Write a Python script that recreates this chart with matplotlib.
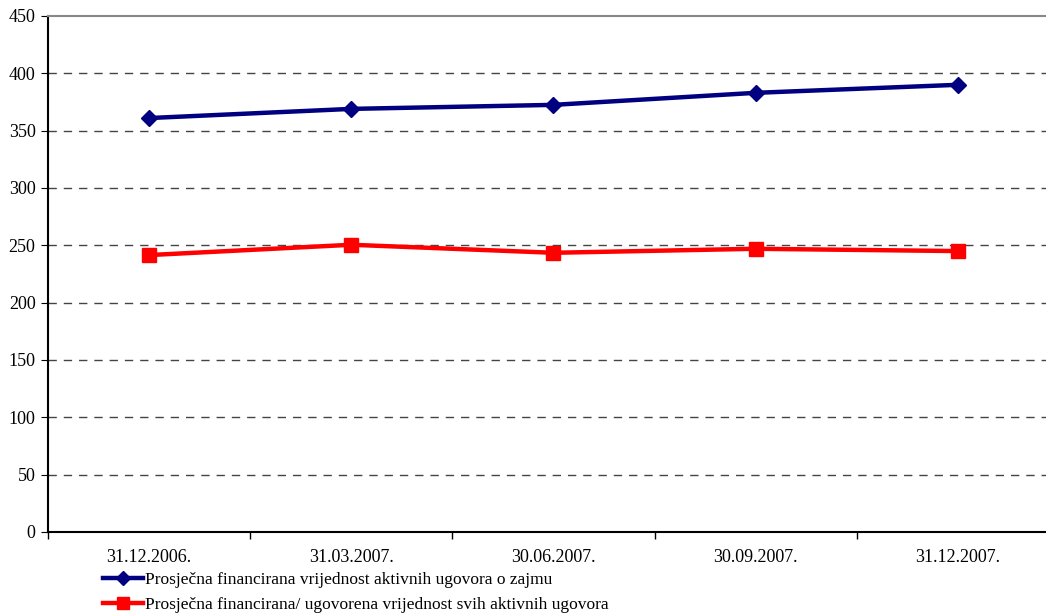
import matplotlib.pyplot as plt
import numpy as np

plt.rcParams['font.family'] = ['Liberation Serif', 'DejaVu Serif']

# --- data
categories = ['31.12.2006.', '31.03.2007.', '30.06.2007.', '30.09.2007.', '31.12.2007.']
aktivni_zajam = [361, 369, 372.5, 383, 390]
svi_ugovori = [241.5, 250.5, 243.5, 247, 245]
label_zajam = 'Prosječna financirana vrijednost aktivnih ugovora o zajmu'
label_svi = 'Prosječna financirana/ ugovorena vrijednost svih aktivnih ugovora'

W, H = 1046, 614
fig = plt.figure(figsize=(W / 100, H / 100), dpi=100)
# plot area runs past the right edge of the image, like the original
left, right, top, bottom = 48, 1059, 16, 532
ax = fig.add_axes([left / W, 1 - bottom / H, (right - left) / W, (bottom - top) / H])

x = np.arange(len(categories))
ax.plot(x, aktivni_zajam, color='#000080', lw=3.2, marker='D', ms=8, label=label_zajam)
ax.plot(x, svi_ugovori, color='#ff0000', lw=3.2, marker='s', ms=10, label=label_svi)

ax.set_xlim(-0.5, len(categories) - 0.5)
ax.set_ylim(0, 450)
ax.set_yticks(np.arange(0, 451, 50))
ax.set_xticks(x)
ax.set_xticklabels(categories)
ax.set_xticks(np.arange(-0.5, len(categories), 1), minor=True)
ax.tick_params(axis='x', which='major', length=0, pad=12, labelsize=13)
ax.tick_params(axis='x', which='minor', length=5, width=1, direction='out')
ax.tick_params(axis='y', length=5, direction='out', labelsize=13, pad=4)

for v in range(50, 451, 50):
    if v < 450:
        ax.axhline(v, color='#444444', lw=1, ls=(0, (6, 5)), zorder=0)
ax.spines['top'].set_color('#888888')
ax.spines['top'].set_linewidth(1.5)
ax.spines['right'].set_visible(False)
ax.spines['left'].set_linewidth(1.5)
ax.spines['bottom'].set_linewidth(1.5)

leg = ax.legend(loc='upper left', bbox_to_anchor=(103 / W, 1 - 572 / H), bbox_transform=fig.transFigure,
                frameon=False, fontsize=12.5, handlelength=2.3, handletextpad=0.1,
                labelspacing=0.5, borderaxespad=0, borderpad=0, markerscale=0.85)

fig.savefig('out.png', dpi=100)
